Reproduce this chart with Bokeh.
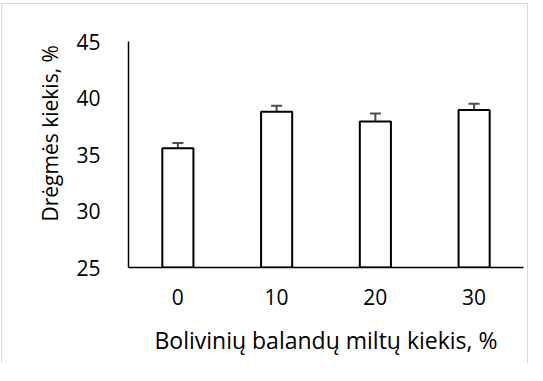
from bokeh.plotting import figure
from bokeh.models import ColumnDataSource, Whisker, TeeHead, Title, FixedTicker
from bokeh.embed import file_html
from bokeh.resources import INLINE

categories = ["0", "10", "20", "30"]
moisture = [35.56, 38.79, 37.91, 38.94]
errors = [0.45, 0.53, 0.72, 0.56]
y_ticks = [25, 30, 35, 40, 45]

x_title = "Bolivinių balandų miltų kiekis, %"
y_title = "Drėgmės kiekis, %"

FONT = "Open Sans"
FS = "21px"

src = ColumnDataSource(dict(
    cat=categories,
    val=moisture,
    upper=[v + e for v, e in zip(moisture, errors)],
    lower=[v - e for v, e in zip(moisture, errors)],
))

p = figure(
    x_range=categories, y_range=(25, 45),
    width=527, height=360,
    output_backend="svg", toolbar_location=None,
    min_border_left=126, min_border_right=6,
    min_border_top=37, min_border_bottom=97,
    margin=(3, 0, 0, 1),
    styles={"border-top": "1px solid #d9d9d9",
            "border-left": "1px solid #d9d9d9",
            "border-right": "1px solid #d9d9d9"},
)
p.x_range.range_padding = 0

p.vbar(x="cat", top="val", bottom=25, width=0.315, source=src,
       fill_color="white", line_color="black", line_width=2)

wh = Whisker(base="cat", upper="upper", lower="lower", source=src,
             line_color="#4d4d4d", line_width=2,
             upper_head=TeeHead(size=11, line_color="#4d4d4d", line_width=2),
             lower_head=TeeHead(size=11, line_color="#4d4d4d", line_width=2))
p.add_layout(wh)

p.outline_line_color = None
p.xgrid.visible = False
p.ygrid.visible = False

for ax in (p.xaxis[0], p.yaxis[0]):
    ax.axis_line_color = "black"
    ax.axis_line_width = 1.5
    ax.major_tick_line_color = None
    ax.minor_tick_line_color = None
    ax.major_label_text_font = FONT
    ax.major_label_text_font_size = FS
    ax.major_label_text_color = "black"

p.yaxis[0].major_label_standoff = 22
p.xaxis[0].major_label_standoff = 15
p.yaxis[0].ticker = FixedTicker(ticks=y_ticks)
# invisible spacer label to push the y title outward
p.yaxis[0].axis_label = " "
p.yaxis[0].axis_label_text_font_size = "2px"
p.yaxis[0].axis_label_standoff = 5

p.xaxis[0].axis_label = x_title
p.xaxis[0].axis_label_text_font = FONT
p.xaxis[0].axis_label_text_font_size = "23px"
p.xaxis[0].axis_label_text_font_style = "normal"
p.xaxis[0].axis_label_text_color = "black"
p.xaxis[0].axis_label_standoff = 16

ytitle = Title(text=y_title, align="left", offset=46,
               text_font=FONT, text_font_size=FS, text_font_style="normal",
               text_color="black", standoff=0)
p.add_layout(ytitle, "left")

open("out.html", "w").write(file_html(p, INLINE))
